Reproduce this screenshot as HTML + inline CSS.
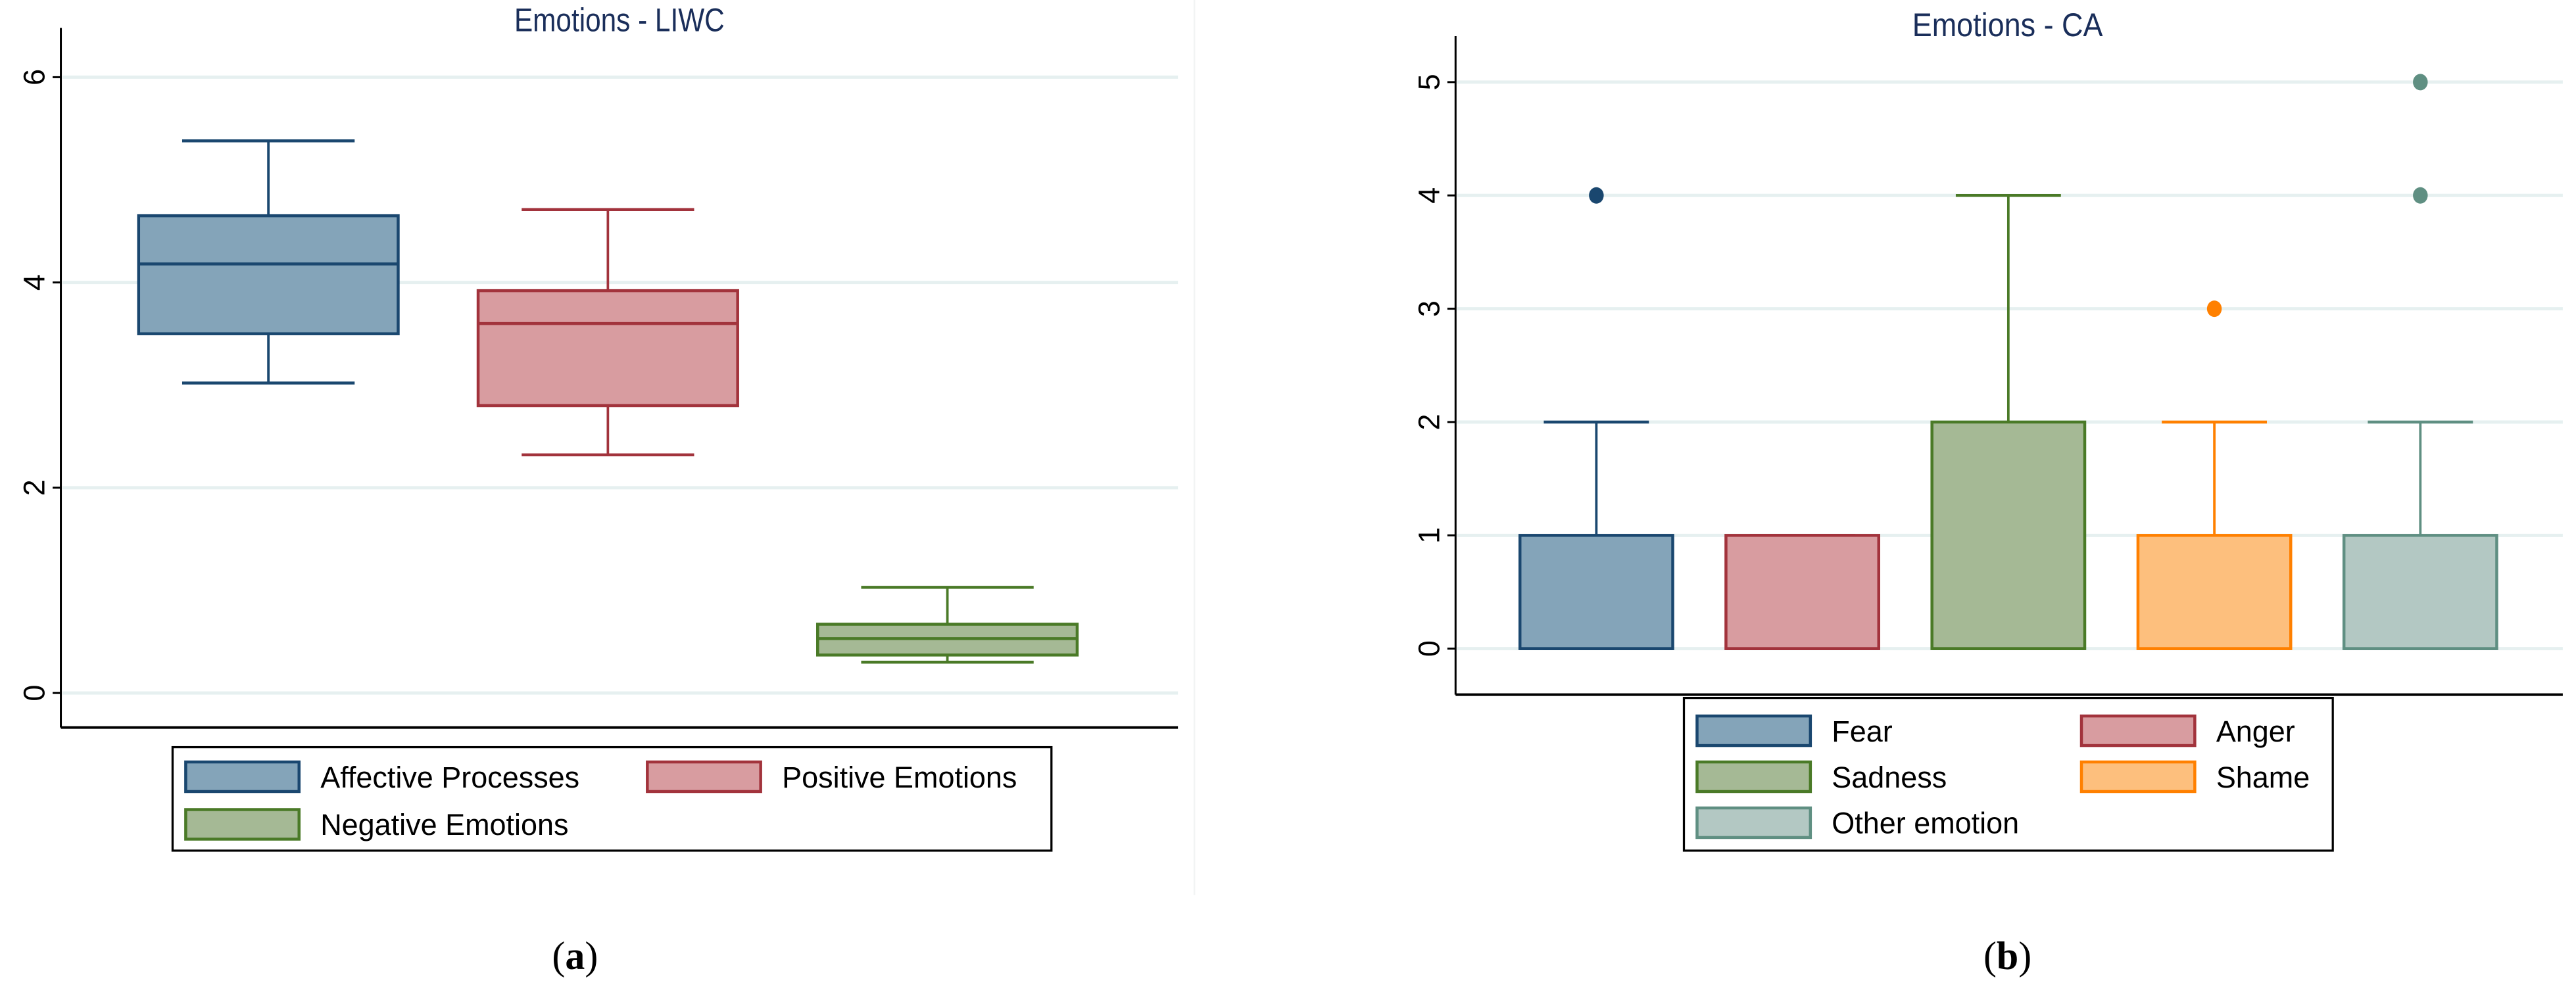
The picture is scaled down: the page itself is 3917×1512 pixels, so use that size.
<!DOCTYPE html>
<html><head><meta charset="utf-8">
<style>
html,body{margin:0;padding:0;background:#fff;}
svg{display:block;}
text{font-family:"Liberation Sans Narrow","Liberation Sans",sans-serif;}
</style></head>
<body>
<svg id="fig" width="3917" height="1512" viewBox="0 0 1568 605.3" xmlns="http://www.w3.org/2000/svg">
<line x1="727" y1="0" x2="727" y2="545" stroke="#f2f4f4" stroke-width="1"/>
<g id="pa"></g>
<g id="pb"></g>
<text x="350" y="590" font-size="24" text-anchor="middle" style="font-family:'Liberation Serif',serif">(<tspan font-weight="bold">a</tspan>)</text>
<text x="1222" y="590" font-size="24" text-anchor="middle" style="font-family:'Liberation Serif',serif">(<tspan font-weight="bold">b</tspan>)</text>
</svg>
<script>
// Panel A data
const catsA = ["Affective Processes","Positive Emotions","Negative Emotions"];
const loA  = [3.02, 2.32, 0.30];
const q1A  = [3.50, 2.80, 0.37];
const medA = [4.18, 3.60, 0.53];
const q3A  = [4.65, 3.92, 0.67];
const hiA  = [5.38, 4.71, 1.03];
const ticksA = [0, 2, 4, 6];
// Panel B data
const catsB = ["Fear","Anger","Sadness","Shame","Other emotion"];
const loB  = [0, 0, 0, 0, 0];
const q1B  = [0, 0, 0, 0, 0];
const medB = [0, 0, 0, 0, 0];
const q3B  = [1, 1, 2, 1, 1];
const hiB  = [2, 1, 4, 2, 2];
const outB = [[4], [], [], [3], [4, 5]];
const ticksB = [0, 1, 2, 3, 4, 5];

const NS = "http://www.w3.org/2000/svg";
const strokes = ["#1a476f","#a2333c","#4a7a27","#ff8000","#5f8f82"];
const fills   = ["#84a4b9","#d89ca0","#a5b995","#fdbf7d","#b3c8c3"];
const strokesA = ["#1a476f","#a2333c","#4a7a27"];
const fillsA   = ["#84a4b9","#d89ca0","#a5b995"];

function mk(parent, tag, attrs){
  const e = document.createElementNS(NS, tag);
  for (const k in attrs) e.setAttribute(k, attrs[k]);
  parent.appendChild(e);
  return e;
}

function panel(g, cfg){
  const y = v => cfg.y0 - (v - cfg.vmin) * (cfg.y0 - cfg.yTop) / (cfg.vmax - cfg.vmin);
  const n = cfg.cats.length;
  const x = i => cfg.xs + (i + 0.5) * (cfg.xe - cfg.xs) / n;
  cfg.ticks.forEach(t => {
    const gl = mk(g, "line", {x1: cfg.ax + 1, x2: cfg.xe2, y1: y(t), y2: y(t), stroke: "#e6f0f0", "stroke-width": 2});
    
    
    const tk = mk(g, "line", {x1: cfg.ax - 5, x2: cfg.ax, y1: y(t), y2: y(t), stroke: "#000", "stroke-width": 1.2});
    
    
    const tl = mk(g, "text", {x: 0, y: 0, "font-size": 18, "text-anchor": "middle", transform: "translate(" + (cfg.ax - 10) + "," + y(t) + ") rotate(-90)", style: "font-family:'Liberation Sans',sans-serif"});
    tl.textContent = t;
    
    
  });
  const ya = mk(g, "line", {x1: cfg.ax, x2: cfg.ax, y1: cfg.axTop, y2: cfg.axBot, stroke: "#000", "stroke-width": 1.2});
  
  
  const xa = mk(g, "line", {x1: cfg.ax, x2: cfg.xe2, y1: cfg.axBot, y2: cfg.axBot, stroke: "#000", "stroke-width": 1.6});
  
  
  const ti = mk(g, "text", {x: cfg.tx, y: cfg.ty, "font-size": 20, "text-anchor": "middle", fill: "#1a2e5a", textLength: cfg.tl, lengthAdjust: "spacingAndGlyphs"});
  ti.textContent = cfg.title;
  
  
  for (let i = 0; i < n; i++){
    const cx = x(i), hw = cfg.bw / 2, cw = cfg.cw / 2;
    const bg = mk(g, "g", {});
    
    
    const sc = cfg.strokes[i];
    mk(bg, "line", {x1: cx, x2: cx, y1: y(cfg.hi[i]), y2: y(cfg.q3[i]), stroke: sc, "stroke-width": 1.5});
    mk(bg, "line", {x1: cx, x2: cx, y1: y(cfg.q1[i]), y2: y(cfg.lo[i]), stroke: sc, "stroke-width": 1.5});
    mk(bg, "line", {x1: cx - cw, x2: cx + cw, y1: y(cfg.hi[i]), y2: y(cfg.hi[i]), stroke: sc, "stroke-width": 1.8});
    mk(bg, "line", {x1: cx - cw, x2: cx + cw, y1: y(cfg.lo[i]), y2: y(cfg.lo[i]), stroke: sc, "stroke-width": 1.8});
    mk(bg, "rect", {x: cx - hw, y: y(cfg.q3[i]), width: cfg.bw, height: Math.max(0, y(cfg.q1[i]) - y(cfg.q3[i])), fill: cfg.fills[i], stroke: sc, "stroke-width": 1.8});
    mk(bg, "line", {x1: cx - hw, x2: cx + hw, y1: y(cfg.med[i]), y2: y(cfg.med[i]), stroke: sc, "stroke-width": 1.8});
    if (cfg.out) cfg.out[i].forEach(v => {
      const c = mk(bg, "ellipse", {cx: cx, cy: y(v), rx: 4.5, ry: 5, fill: sc});
      
      
    });
  }
  const lg = mk(g, "g", {});
  
  
  mk(lg, "rect", {x: cfg.lx, y: cfg.ly, width: cfg.lw, height: cfg.lh, fill: "#fff", stroke: "#000", "stroke-width": 1.3});
  for (let i = 0; i < n; i++){
    const col = i % 2, row = Math.floor(i / 2);
    const sx = cfg.lcols[col], sy = cfg.lrow0 + row * cfg.lrowh;
    const le = mk(lg, "g", {});
    
    
    mk(le, "rect", {x: sx, y: sy - 9, width: 69, height: 18, fill: cfg.fills[i], stroke: cfg.strokes[i], "stroke-width": 1.8});
    const t = mk(le, "text", {x: sx + 82, y: sy + 6.5, "font-size": 18});
    t.textContent = cfg.cats[i];
  }
}

panel(document.getElementById("pa"), {
  cats: catsA, lo: loA, q1: q1A, med: medA, q3: q3A, hi: hiA, ticks: ticksA,
  strokes: strokesA, fills: fillsA, vmin: 0, vmax: 6, y0: 422, yTop: 47,
  ax: 37, axTop: 17, axBot: 443, xs: 60, xe: 680, xe2: 717, bw: 158, cw: 105,
  title: "Emotions - LIWC", tx: 377, ty: 19, tl: 128,
  lx: 105, ly: 455, lw: 535, lh: 63, lcols: [113, 394], lrow0: 473, lrowh: 29
});
panel(document.getElementById("pb"), {
  cats: catsB, lo: loB, q1: q1B, med: medB, q3: q3B, hi: hiB, ticks: ticksB, out: outB,
  strokes: strokes, fills: fills, vmin: 0, vmax: 5, y0: 395, yTop: 50,
  ax: 886, axTop: 22, axBot: 423, xs: 909, xe: 1536, xe2: 1560, bw: 93, cw: 64,
  title: "Emotions - CA", tx: 1222, ty: 22, tl: 116,
  lx: 1025, ly: 425, lw: 395, lh: 93, lcols: [1033, 1267], lrow0: 445, lrowh: 28
});
</script>
</body></html>
